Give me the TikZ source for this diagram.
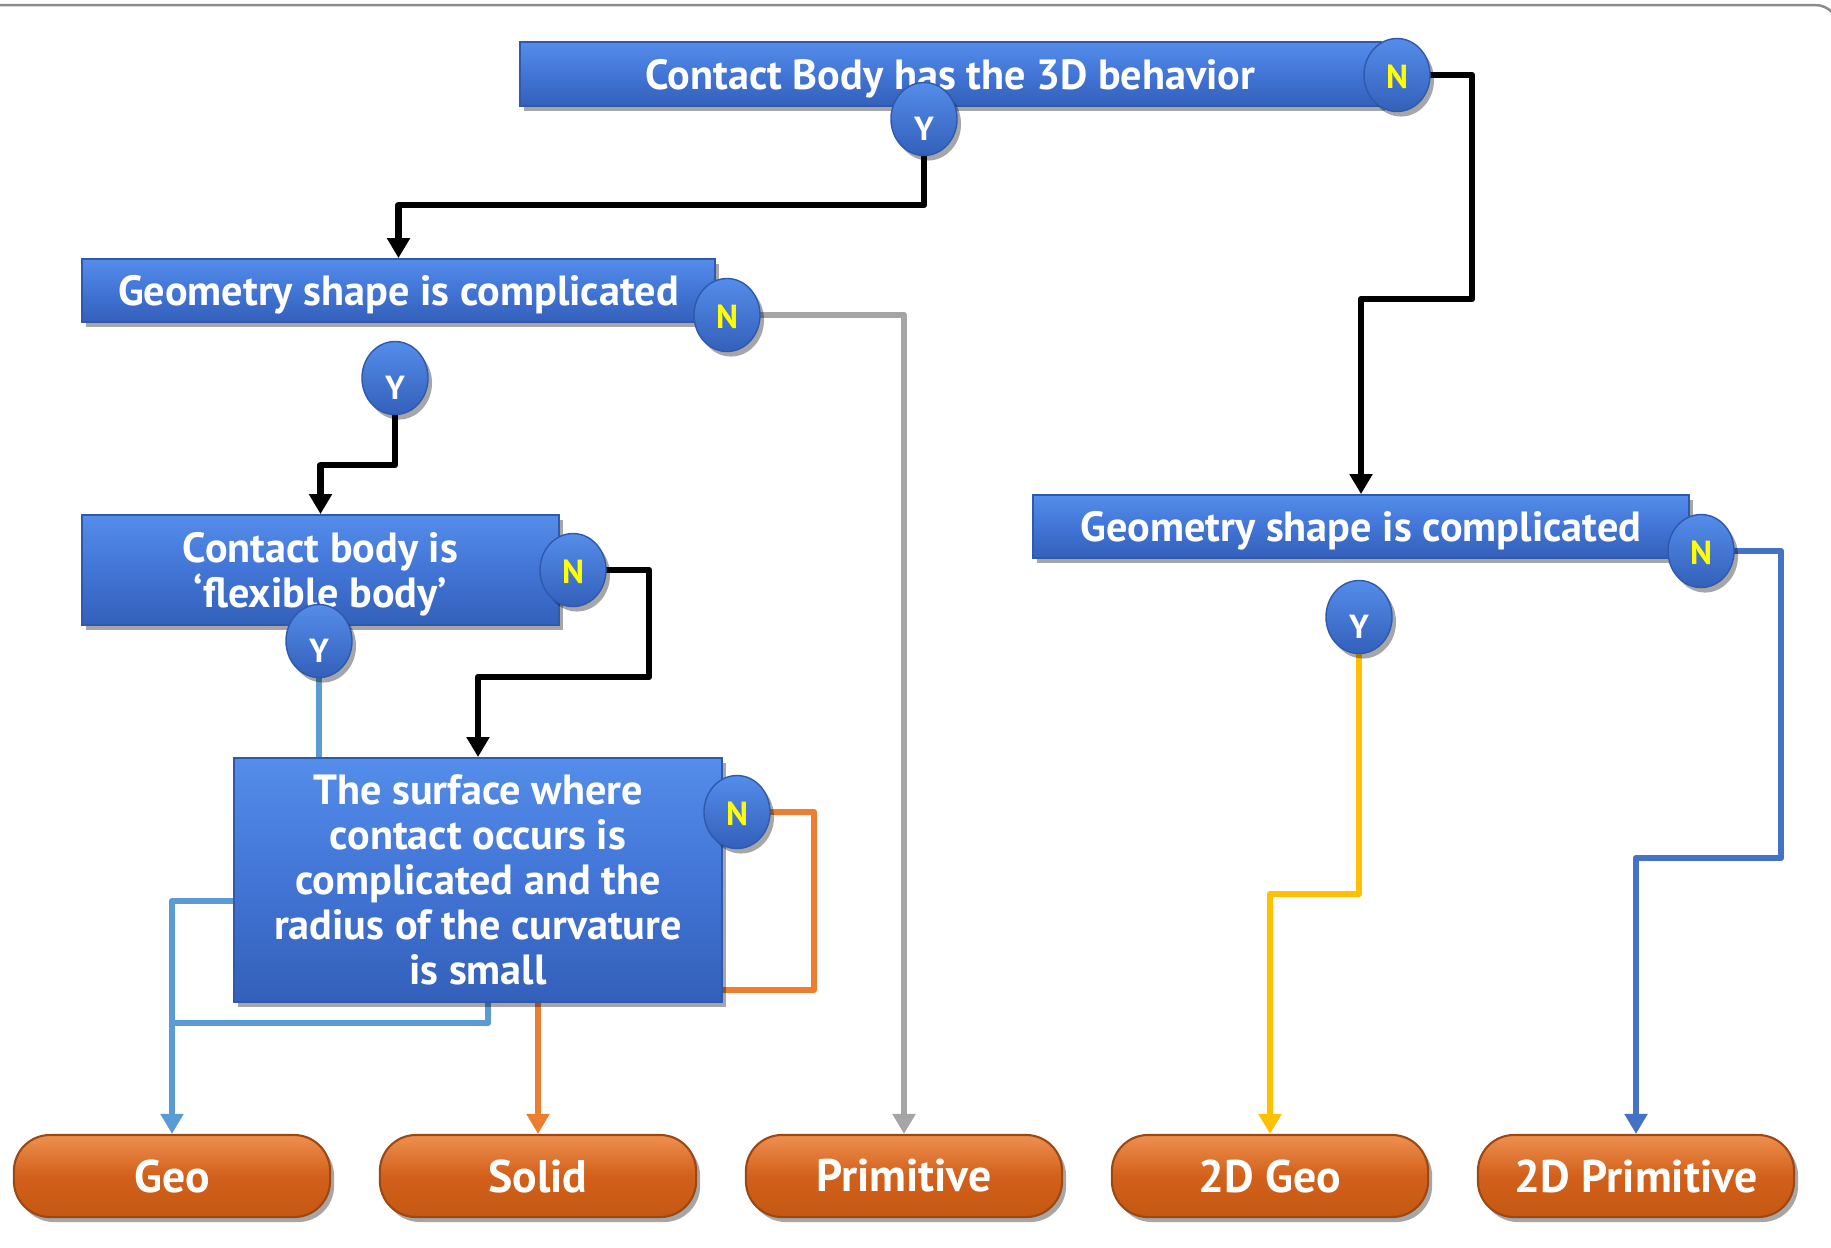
\documentclass[tikz,border=0pt]{standalone}
\usepackage{fontspec}
\setmainfont{PT Sans}
\usetikzlibrary{shapes.geometric,arrows.meta,shadows,backgrounds}

\definecolor{boxtop}{HTML}{548DEA}
\definecolor{boxmid}{HTML}{4275D6}
\definecolor{boxbot}{HTML}{3360BA}
\definecolor{boxedge}{HTML}{2E59AC}
\definecolor{restop}{HTML}{EE9050}
\definecolor{resmid}{HTML}{D2601A}
\definecolor{resbot}{HTML}{C45812}
\definecolor{resedge}{HTML}{9C4812}
\definecolor{noyellow}{HTML}{FFFF00}
\definecolor{lgray}{HTML}{A5A5A5}
\definecolor{lblue}{HTML}{5B9BD5}
\definecolor{lorange}{HTML}{ED7D31}
\definecolor{lyellow}{HTML}{FFC000}
\definecolor{ldblue}{HTML}{4472C4}
\definecolor{framegray}{HTML}{8C8C8C}

\begin{document}
\begin{tikzpicture}[x=0.01cm, y=-0.01cm,
  softshadow/.style={drop shadow={shadow xshift=0.04cm, shadow yshift=-0.05cm, opacity=0.35, fill=black}},
  cond/.style={rectangle, inner sep=0pt, top color=boxtop, bottom color=boxbot,
    middle color=boxmid, draw=boxedge, line width=0.5pt, text=white,
    font=\bfseries\fontsize{12}{12.8}\selectfont, align=center, softshadow},
  lowtext/.style={text depth=0pt},
  answer/.style={ellipse, inner sep=0pt, minimum width=0.66cm, minimum height=0.73cm,
    top color=boxtop, bottom color=boxbot, draw=boxedge, line width=0.4pt,
    font=\bfseries\fontsize{9.5}{11}\selectfont, softshadow, text depth=0pt},
  yes/.style={answer, text=white, text height=12.4pt},
  no/.style={answer, text=noyellow, text height=7.6pt},
  result/.style={rectangle, rounded corners=0.36cm, inner sep=0pt,
    minimum width=3.16cm, minimum height=0.82cm,
    top color=restop, bottom color=resbot, middle color=resmid,
    draw=resedge, line width=0.6pt, text=white,
    font=\bfseries\fontsize{13}{15}\selectfont, softshadow},
  link/.style={line width=0.065cm, line join=round},
  tip/.style={-{Triangle[width=0.22cm,length=0.2cm]}}
]
\useasboundingbox (0,0) rectangle (1831,1247);

% frame edge
\draw[framegray, line width=0.025cm, rounded corners=0.24cm] (-10,5) -- (1839,5) -- (1839,120);

% decision boxes
\node[cond, lowtext, minimum width=8.61cm, minimum height=0.64cm] (A) at (950.5,74) {Contact Body has the 3D behavior};
\node[cond, lowtext, minimum width=6.33cm, minimum height=0.63cm] (B) at (398.5,290.5) {Geometry shape is complicated};
\node[cond, lowtext, minimum width=6.56cm, minimum height=0.63cm] (C) at (1361,526.5) {Geometry shape is complicated};
\node[cond, lowtext, minimum width=4.77cm, minimum height=1.10cm] (D) at (320.5,570) {Contact body is\\‘flexible body’};
\node[cond, minimum width=4.88cm, minimum height=2.44cm] (E) at (478,880)
  {The surface where\\contact occurs is\\complicated and the\\radius of the curvature\\is small};

% yes / no markers
\node[no]  (An) at (1397,75)  {N};
\node[yes] (Ay) at (924,119)  {Y};
\node[no]  (Bn) at (727,315)  {N};
\node[yes] (By) at (395,378)  {Y};
\node[no]  (Dn) at (573,570)  {N};
\node[yes] (Dy) at (319,641)  {Y};
\node[no]  (En) at (737,812)  {N};
\node[no]  (Cn) at (1701,551) {N};
\node[yes] (Cy) at (1359,617) {Y};

% contact types
\node[result] (geo)   at (172,1176)  {Geo};
\node[result] (solid) at (538,1176)  {Solid};
\node[result] (prim)  at (904,1176)  {Primitive};
\node[result] (geo2)  at (1270,1176) {2D Geo};
\node[result] (prim2) at (1636,1176) {2D Primitive};

% connectors, kept behind the boxes
\begin{scope}[on background layer]
  \draw[link, tip] (Ay.center) -- (Ay |- 0,205) -| (B.north);
  \draw[link, tip] (An.center) -- (1472,75) -- (1472,299) -| (C.north);
  \draw[link, tip] (By.center) -- (By |- 0,465) -| (D.north);
  \draw[link, tip] (Dn.center) -- (649,570) -- (649,677) -| (E.north);
  \draw[link, lgray, tip] (Bn.center) -- (Bn -| prim) -- (prim.north);
  \draw[link, lblue, tip] (Dy.center) -- (Dy |- 0,901) -| (geo.north);
  \coordinate (Eyes) at (488,960);
  \draw[link, lblue] (Eyes) -- (Eyes |- 0,1023) -- (geo |- 0,1023);
  \draw[link, lorange, tip] (En.center) -- (814,812) -- (814,990) -| (solid.north);
  \draw[link, lyellow, tip] (Cy.center) -- (Cy |- 0,894) -| (geo2.north);
  \draw[link, ldblue, tip] (Cn.center) -- (1781,551) -- (1781,858) -| (prim2.north);
\end{scope}
\end{tikzpicture}
\end{document}
